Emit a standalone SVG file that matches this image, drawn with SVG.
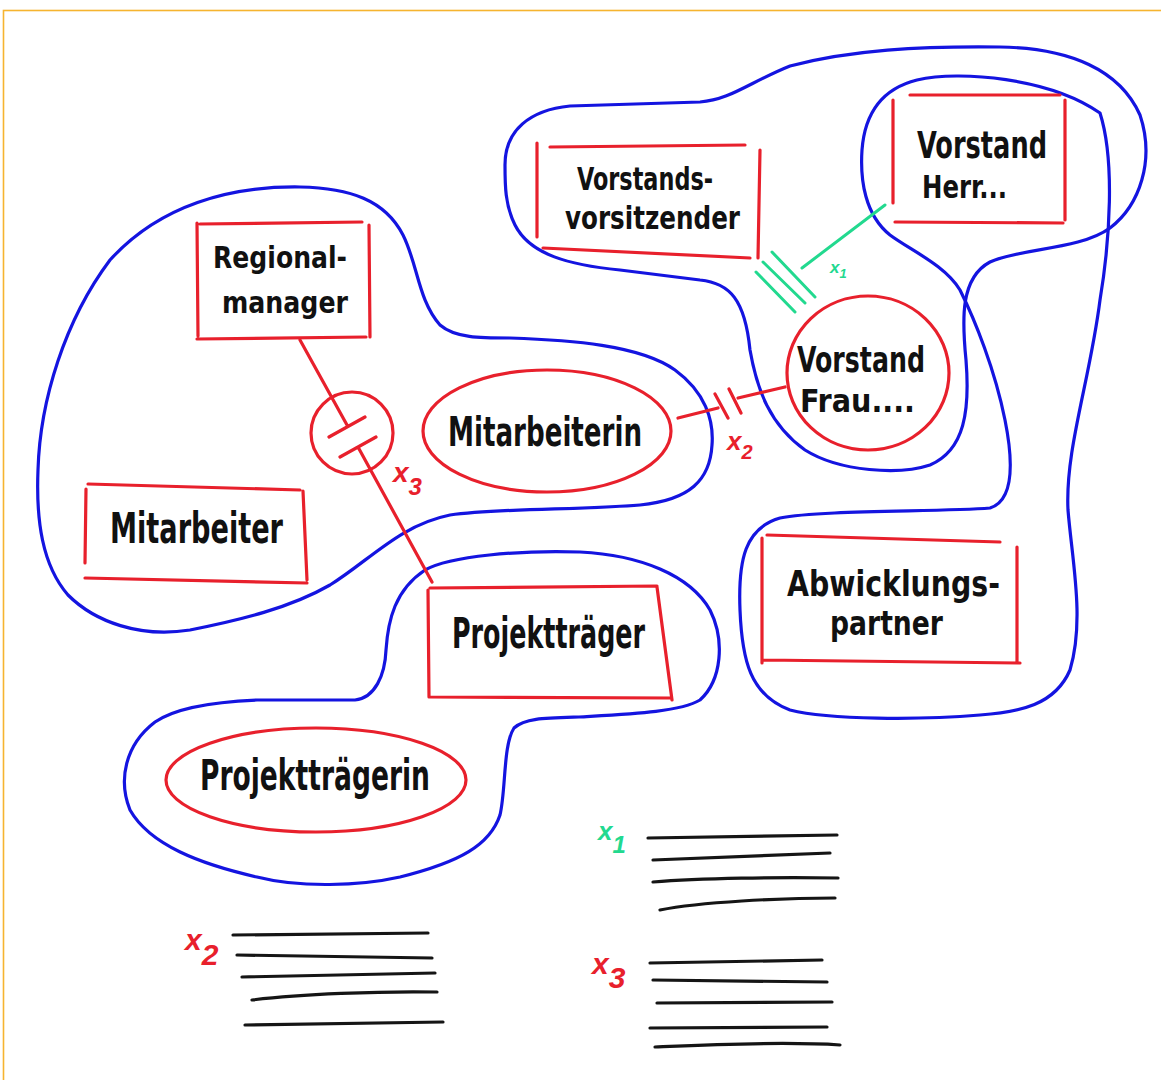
<svg xmlns="http://www.w3.org/2000/svg" width="1161" height="1080" viewBox="0 0 1161 1080">
<defs>
<style>
.frame{fill:none;stroke:#f6b430;stroke-width:1.6}
.blue{fill:none;stroke:#1414e0;stroke-width:3.2;stroke-linecap:round;stroke-linejoin:round}
.red{fill:none;stroke:#e8202c;stroke-width:3.2;stroke-linecap:round;stroke-linejoin:round}
.green{fill:none;stroke:#22d98f;stroke-width:3;stroke-linecap:round}
.ink{fill:none;stroke:#151515;stroke-width:3.2;stroke-linecap:round}
.lbl{font-family:"Liberation Sans Narrow","DejaVu Sans Condensed","Liberation Sans",sans-serif;font-weight:bold;fill:#111}
.xr{font-family:"Liberation Sans","DejaVu Sans",sans-serif;font-style:italic;font-weight:bold;fill:#e8202c}
.xg{font-family:"Liberation Sans","DejaVu Sans",sans-serif;font-style:italic;font-weight:bold;fill:#22d98f}
</style>
</defs>
<rect width="1161" height="1080" fill="#ffffff"/>
<rect class="frame" x="3.5" y="10.5" width="1200" height="1100"/>

<g id="groups">
<path id="blob-left" class="blue" d="M300,187 C350,188 385,200 403,235 C418,265 418,300 440,325 C455,338 480,338 510,338 C570,340 640,345 675,370 C705,392 714,420 712,445 C710,480 690,500 640,505 C580,510 500,508 450,515 C400,525 370,560 330,585 C290,608 240,620 190,630 C140,638 95,622 68,595 C42,565 36,520 38,470 C40,400 65,320 110,260 C160,205 230,186 300,187 Z"/>
<path id="blob-vorstand" class="blue" d="M505,165 C505,130 530,110 570,106 L700,102 C730,100 750,82 790,66 C850,50 920,46 1000,47 C1070,48 1120,70 1140,115 C1155,160 1140,205 1110,228 C1080,250 1020,248 990,262 C960,278 962,320 966,360 C970,410 965,450 930,465 C900,475 840,472 805,450 C770,425 757,390 750,350 C745,300 730,283 700,280 L620,270 C570,265 530,255 515,225 C505,205 505,185 505,165 Z"/>
<path id="blob-herr-abwicklung" class="blue" d="M917,80 C960,70 1050,78 1100,113 C1115,160 1110,240 1100,300 C1090,380 1065,450 1068,510 C1072,560 1085,620 1070,670 C1055,705 1020,712 980,715 C920,720 830,720 790,710 C750,695 742,660 740,610 C738,560 745,528 780,518 C820,510 940,512 990,508 C1015,500 1013,460 1005,420 C995,370 975,320 960,290 C945,265 910,250 890,235 C865,215 860,180 862,150 C865,110 885,88 917,80 Z"/>
<path id="blob-projekt" class="blue" d="M425,570 C450,556 520,550 580,552 C640,555 690,575 710,610 C725,640 722,680 700,700 C680,712 630,714 579,717 C545,718 525,718 514,728 C503,745 506,790 500,815 C490,845 460,862 400,877 C360,886 300,888 257,877 C200,864 150,845 130,810 C118,780 125,745 155,722 C175,708 210,702 257,700 L355,700 C375,698 385,675 386,650 C388,620 395,590 425,570 Z"/>
</g>

<g id="connectors">
<g id="conn-x3">
<path class="red" d="M300,340 L347,425 M329,437 L365,417 M340,457 L376,437 M358,447 L432,582"/>
<circle class="red" cx="352" cy="433" r="41"/>
<text class="xr" x="393" y="482" font-size="28">x<tspan font-size="24" dy="13">3</tspan></text>
</g>
<g id="conn-x2">
<path class="red" d="M678,418 L718,408 M715,394 L728,418 M729,389 L741,413 M738,398 L785,387"/>
<text class="xr" x="727" y="450" font-size="26">x<tspan font-size="20" dy="9">2</tspan></text>
</g>
<g id="conn-x1">
<path class="green" d="M772,252 L815,297 M763,262 L805,303 M756,272 L795,312 M802,268 L885,205"/>
<text class="xg" x="830" y="273" font-size="17">x<tspan font-size="13" dy="5">1</tspan></text>
</g>
</g>

<g id="node-regionalmanager">
<path class="red" d="M197,223 L198,336 M200,224 L362,222 M369,225 L370,337 M197,339 L366,337"/>
<text class="lbl" x="213" y="268" font-size="30" textLength="134" lengthAdjust="spacingAndGlyphs">Regional-</text>
<text class="lbl" x="222" y="313" font-size="30" textLength="126" lengthAdjust="spacingAndGlyphs">manager</text>
</g>

<g id="node-mitarbeiter">
<path class="red" d="M86,489 L85,563 M88,484 L300,490 M303,491 L307,580 M85,578 L307,583"/>
<text class="lbl" x="110" y="543" font-size="42" textLength="173" lengthAdjust="spacingAndGlyphs">Mitarbeiter</text>
</g>

<g id="node-mitarbeiterin">
<ellipse class="red" cx="547" cy="431" rx="124" ry="61"/>
<text class="lbl" x="448" y="446" font-size="40" textLength="194" lengthAdjust="spacingAndGlyphs">Mitarbeiterin</text>
</g>

<g id="node-projekttraeger">
<path class="red" d="M428,590 L429,697 M430,588 L657,586 M657,587 L672,700 M430,697 L671,698"/>
<text class="lbl" x="452" y="648" font-size="42" textLength="193" lengthAdjust="spacingAndGlyphs">Projektträger</text>
</g>

<g id="node-projekttraegerin">
<ellipse class="red" cx="316" cy="780" rx="150" ry="52"/>
<text class="lbl" x="200" y="790" font-size="42" textLength="230" lengthAdjust="spacingAndGlyphs">Projektträgerin</text>
</g>

<g id="node-vorstandsvorsitzender">
<path class="red" d="M537,143 L537,237 M550,147 L745,145 M760,150 L758,258 M543,248 L750,258"/>
<text class="lbl" x="577" y="190" font-size="32" textLength="136" lengthAdjust="spacingAndGlyphs">Vorstands-</text>
<text class="lbl" x="565" y="229" font-size="32" textLength="175" lengthAdjust="spacingAndGlyphs">vorsitzender</text>
</g>

<g id="node-vorstand-herr">
<path class="red" d="M893,100 L893,203 M910,95 L1060,95 M1065,100 L1065,220 M895,222 L1063,223"/>
<text class="lbl" x="917" y="158" font-size="38" textLength="130" lengthAdjust="spacingAndGlyphs">Vorstand</text>
<text class="lbl" x="922" y="198" font-size="32" textLength="85" lengthAdjust="spacingAndGlyphs">Herr...</text>
</g>

<g id="node-vorstand-frau">
<ellipse class="red" cx="868" cy="373" rx="81" ry="77"/>
<text class="lbl" x="797" y="372" font-size="36" textLength="128" lengthAdjust="spacingAndGlyphs">Vorstand</text>
<text class="lbl" x="800" y="412" font-size="32" textLength="115" lengthAdjust="spacingAndGlyphs">Frau....</text>
</g>

<g id="node-abwicklungspartner">
<path class="red" d="M762,538 L762,663 M767,535 L1000,542 M1017,547 L1017,662 M763,660 L1020,663"/>
<text class="lbl" x="787" y="596" font-size="36" textLength="213" lengthAdjust="spacingAndGlyphs">Abwicklungs-</text>
<text class="lbl" x="830" y="635" font-size="34" textLength="113" lengthAdjust="spacingAndGlyphs">partner</text>
</g>

<g id="legend-x2">
<text class="xr" x="185" y="950" font-size="30">x<tspan font-size="30" dy="15">2</tspan></text>
<path class="ink" d="M233,935 L428,933 M237,955 L432,958 M242,977 L435,973 M252,1000 C300,994 380,991 437,992 M245,1025 L443,1022"/>
</g>
<g id="legend-x1">
<text class="xg" x="598" y="840" font-size="26">x<tspan font-size="24" dy="13">1</tspan></text>
<path class="ink" d="M648,838 L837,835 M653,860 L830,853 M653,882 C700,878 780,877 838,878 M660,910 C700,902 780,898 835,898"/>
</g>
<g id="legend-x3">
<text class="xr" x="592" y="974" font-size="30">x<tspan font-size="30" dy="14">3</tspan></text>
<path class="ink" d="M650,963 L822,960 M653,980 L827,982 M657,1003 L832,1002 M650,1028 L827,1027 M655,1047 C700,1045 780,1041 840,1045"/>
</g>
</svg>
